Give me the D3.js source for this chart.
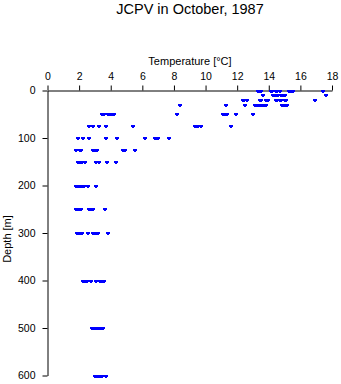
<!DOCTYPE html>
<html>
<head>
<meta charset="utf-8">
<script src="https://cdn.jsdelivr.net/npm/d3@7"></script>
<style>
  html, body { margin: 0; padding: 0; background: #fff; }
  svg { display: block; font-family: "Liberation Sans", Arial, Helvetica, sans-serif; }
</style>
</head>
<body>
<svg id="chart" width="341" height="384"></svg>
<script>
// CTD casts: temperature (°C) observed at each standard depth (m)
const depths = [0, 10, 20, 30, 50, 75, 100, 125, 150, 200, 250, 300, 400, 500, 600];
const temps0   = [13.3, 13.4, 13.5, 14.15, 14.2, 14.45, 14.55, 14.7, 15.25, 15.35, 15.45, 15.55, 17.4];
const temps10  = [13.65, 14.25, 14.35, 14.45, 14.6, 14.8, 14.9, 15.05, 17.6];
const temps20  = [12.35, 12.45, 12.6, 13.45, 13.5, 13.8, 13.9, 13.95, 14.45, 14.55, 14.7, 14.75, 15.0, 15.1, 16.95];
const temps30  = [8.4, 11.3, 12.5, 13.15, 13.25, 13.35, 13.5, 13.6, 13.7, 13.85, 14.85, 14.95, 15.05, 15.15];
const temps50  = [3.45, 3.55, 3.85, 3.95, 4.1, 4.2, 8.2, 11.1, 11.2, 11.35, 11.95, 13.0];
const temps75  = [2.65, 2.9, 3.27, 3.7, 5.4, 9.35, 9.45, 9.55, 9.7, 11.6];
const temps100 = [1.9, 2.27, 2.65, 3.7, 4.4, 6.2, 6.8, 6.9, 7.0, 7.7];
const temps125 = [1.8, 2.05, 2.15, 2.85, 2.95, 3.05, 3.15, 4.75, 4.9, 5.55];
const temps150 = [1.9, 2.0, 2.1, 2.2, 2.35, 3.1, 3.25, 3.77, 4.33];
const temps200 = [1.8, 1.9, 2.0, 2.1, 2.2, 2.3, 2.55, 3.08];
const temps250 = [1.8, 1.9, 2.05, 2.15, 2.65, 2.75, 2.85, 3.65];
const temps300 = [1.85, 1.95, 2.05, 2.2, 2.58, 2.85, 2.95, 3.05, 3.2, 3.85];
const temps400 = [2.25, 2.35, 2.5, 2.78, 3.1, 3.3, 3.42, 3.55];
const temps500 = [2.8, 2.9, 3.0, 3.1, 3.2, 3.3, 3.4, 3.5];
const temps600 = [3.0, 3.1, 3.2, 3.3, 3.45, 3.68];

const tempTicks  = [0, 2, 4, 6, 8, 10, 12, 14, 16, 18];
const depthTicks = [0, 100, 200, 300, 400, 500, 600];

const tempsByDepth = [temps0, temps10, temps20, temps30, temps50, temps75, temps100,
  temps125, temps150, temps200, temps250, temps300, temps400, temps500, temps600];

const points = [];
depths.forEach((d, i) => tempsByDepth[i].forEach(t => points.push({ depth: d, temp: t })));

const svg = d3.select("#chart");

const x = d3.scaleLinear().domain([0, 18]).range([47.5, 332]);
const y = d3.scaleLinear().domain([0, 600]).range([90.5, 375.5]);

// title
svg.append("text")
  .attr("x", 190).attr("y", 14)
  .attr("text-anchor", "middle")
  .attr("font-size", 14.5)
  .attr("fill", "#000")
  .text("JCPV in October, 1987");

// temperature axis along the top
const xAxis = svg.append("g")
  .attr("transform", `translate(0,${y(0)})`)
  .call(d3.axisTop(x).tickValues(tempTicks).tickFormat(d3.format("d"))
    .tickSize(5).tickSizeOuter(0).tickPadding(6));

// depth axis on the left
const yAxis = svg.append("g")
  .attr("transform", `translate(${x(0)},0)`)
  .call(d3.axisLeft(y).tickValues(depthTicks).tickFormat(d3.format("d"))
    .tickSize(5).tickSizeOuter(0).tickPadding(7));

[xAxis, yAxis].forEach(g => {
  g.selectAll("path, line").attr("stroke", "#000").attr("stroke-width", 1);
  g.selectAll("text").attr("font-size", 10.5).attr("fill", "#000")
    .attr("font-family", "'Liberation Sans', Arial, sans-serif");
});

// axis titles
svg.append("text")
  .attr("x", 190).attr("y", 64.5)
  .attr("text-anchor", "middle")
  .attr("font-size", 11)
  .attr("fill", "#000")
  .text("Temperature [°C]");

svg.append("text")
  .attr("transform", `translate(11,${(y(0) + y(600)) / 2 + 6}) rotate(-90)`)
  .attr("text-anchor", "middle")
  .attr("font-size", 11)
  .attr("fill", "#000")
  .text("Depth [m]");

// observation markers: small blue crosses
const marks = svg.append("g").attr("fill", "#0000ff").attr("shape-rendering", "crispEdges");
marks.selectAll("rect.h").data(points).join("rect")
  .attr("class", "h")
  .attr("x", d => Math.round(x(d.temp)) - 2)
  .attr("y", d => Math.round(y(d.depth)) - 1)
  .attr("width", 4).attr("height", 2);
marks.selectAll("rect.v").data(points).join("rect")
  .attr("class", "v")
  .attr("x", d => Math.round(x(d.temp)) - 1)
  .attr("y", d => Math.round(y(d.depth)) - 1)
  .attr("width", 2).attr("height", 3);
</script>
</body>
</html>
